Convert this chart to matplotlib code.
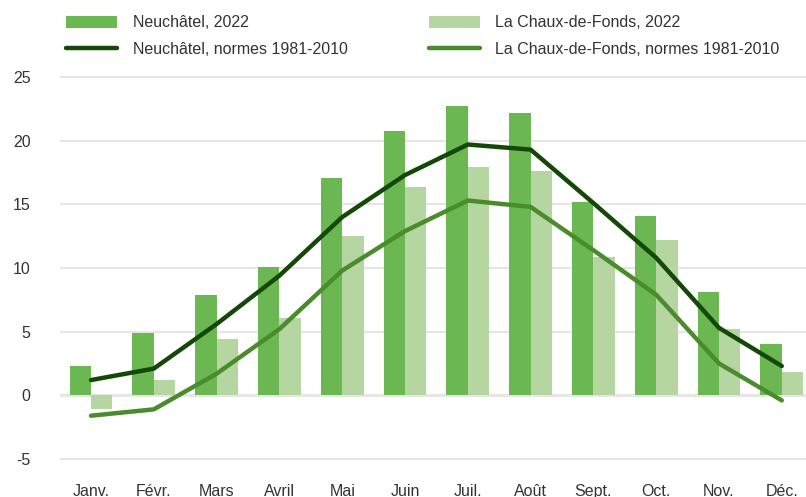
import matplotlib
matplotlib.use("Agg")
import matplotlib.pyplot as plt
import numpy as np

months = ["Janv.", "Févr.", "Mars", "Avril", "Mai", "Juin", "Juil.", "Août", "Sept.", "Oct.", "Nov.", "Déc."]
neuchatel_2022 = [2.3, 4.9, 7.9, 10.1, 17.1, 20.8, 22.7, 22.2, 15.2, 14.1, 8.1, 4.0]
chaux_2022 = [-1.1, 1.2, 4.4, 6.1, 12.5, 16.4, 17.9, 17.6, 10.9, 12.2, 5.2, 1.8]
neuchatel_norm = [1.2, 2.1, 5.6, 9.4, 14.0, 17.3, 19.7, 19.3, 15.1, 10.8, 5.3, 2.3]
chaux_norm = [-1.6, -1.1, 1.7, 5.2, 9.8, 12.9, 15.3, 14.8, 11.4, 7.9, 2.5, -0.4]
yticks = [-5, 0, 5, 10, 15, 20, 25]

plt.rcParams['font.family'] = ['Liberation Sans', 'DejaVu Sans']

W, H = 806, 497
fig = plt.figure(figsize=(W / 100, H / 100), dpi=100)
left_px, right_px = 59.6, 806
top_px, bot_px = 64.3, 478.1
ax = fig.add_axes([left_px / W, 1 - bot_px / H, (right_px - left_px) / W, (bot_px - top_px) / H])

x = np.arange(len(months))
bw = 0.34
c_dark_bar = "#6bb853"
c_light_bar = "#b5d5a1"
c_dark_line = "#134807"
c_mid_line = "#4a8b2b"

b1 = ax.bar(x - bw / 2, neuchatel_2022, width=bw, color=c_dark_bar, zorder=3, label="Neuchâtel, 2022")
b2 = ax.bar(x + bw / 2, chaux_2022, width=bw, color=c_light_bar, zorder=3, label="La Chaux-de-Fonds, 2022")
l1, = ax.plot(x, neuchatel_norm, color=c_dark_line, lw=3.2, solid_capstyle="round", solid_joinstyle="round",
              zorder=5, label="Neuchâtel, normes 1981-2010")
l2, = ax.plot(x, chaux_norm, color=c_mid_line, lw=3.2, solid_capstyle="round", solid_joinstyle="round",
              zorder=4, label="La Chaux-de-Fonds, normes 1981-2010")

ax.set_xlim(-0.5, 11 + (806 - 781.8) / 62.8)
ax.set_ylim(-6.5, 26)
ax.set_yticks(yticks)
ax.set_yticklabels([str(v) for v in yticks])
for v in yticks:
    ax.axhline(v, color="#e6e6e6", lw=2.2 if v == 0 else 1.6, zorder=1)

ax.set_xticks(x)
ax.set_xticklabels(months)
for s in ax.spines.values():
    s.set_visible(False)
ax.tick_params(axis="both", length=0, labelsize=11.5, colors="#333333")
ax.tick_params(axis="y", pad=21)
ax.tick_params(axis="x", pad=4)
for lab in ax.get_yticklabels():
    lab.set_horizontalalignment("right")

leg = fig.legend(handles=[b1, l1, b2, l2], ncol=2, loc="upper left",
                 bbox_to_anchor=(52 / W, 1 - 1 / H), frameon=False,
                 fontsize=11.5, handlelength=3.2, handleheight=0.75, handletextpad=0.95,
                 columnspacing=5.1, labelspacing=0.72, labelcolor="#333333")

fig.savefig("out.png", dpi=100)
